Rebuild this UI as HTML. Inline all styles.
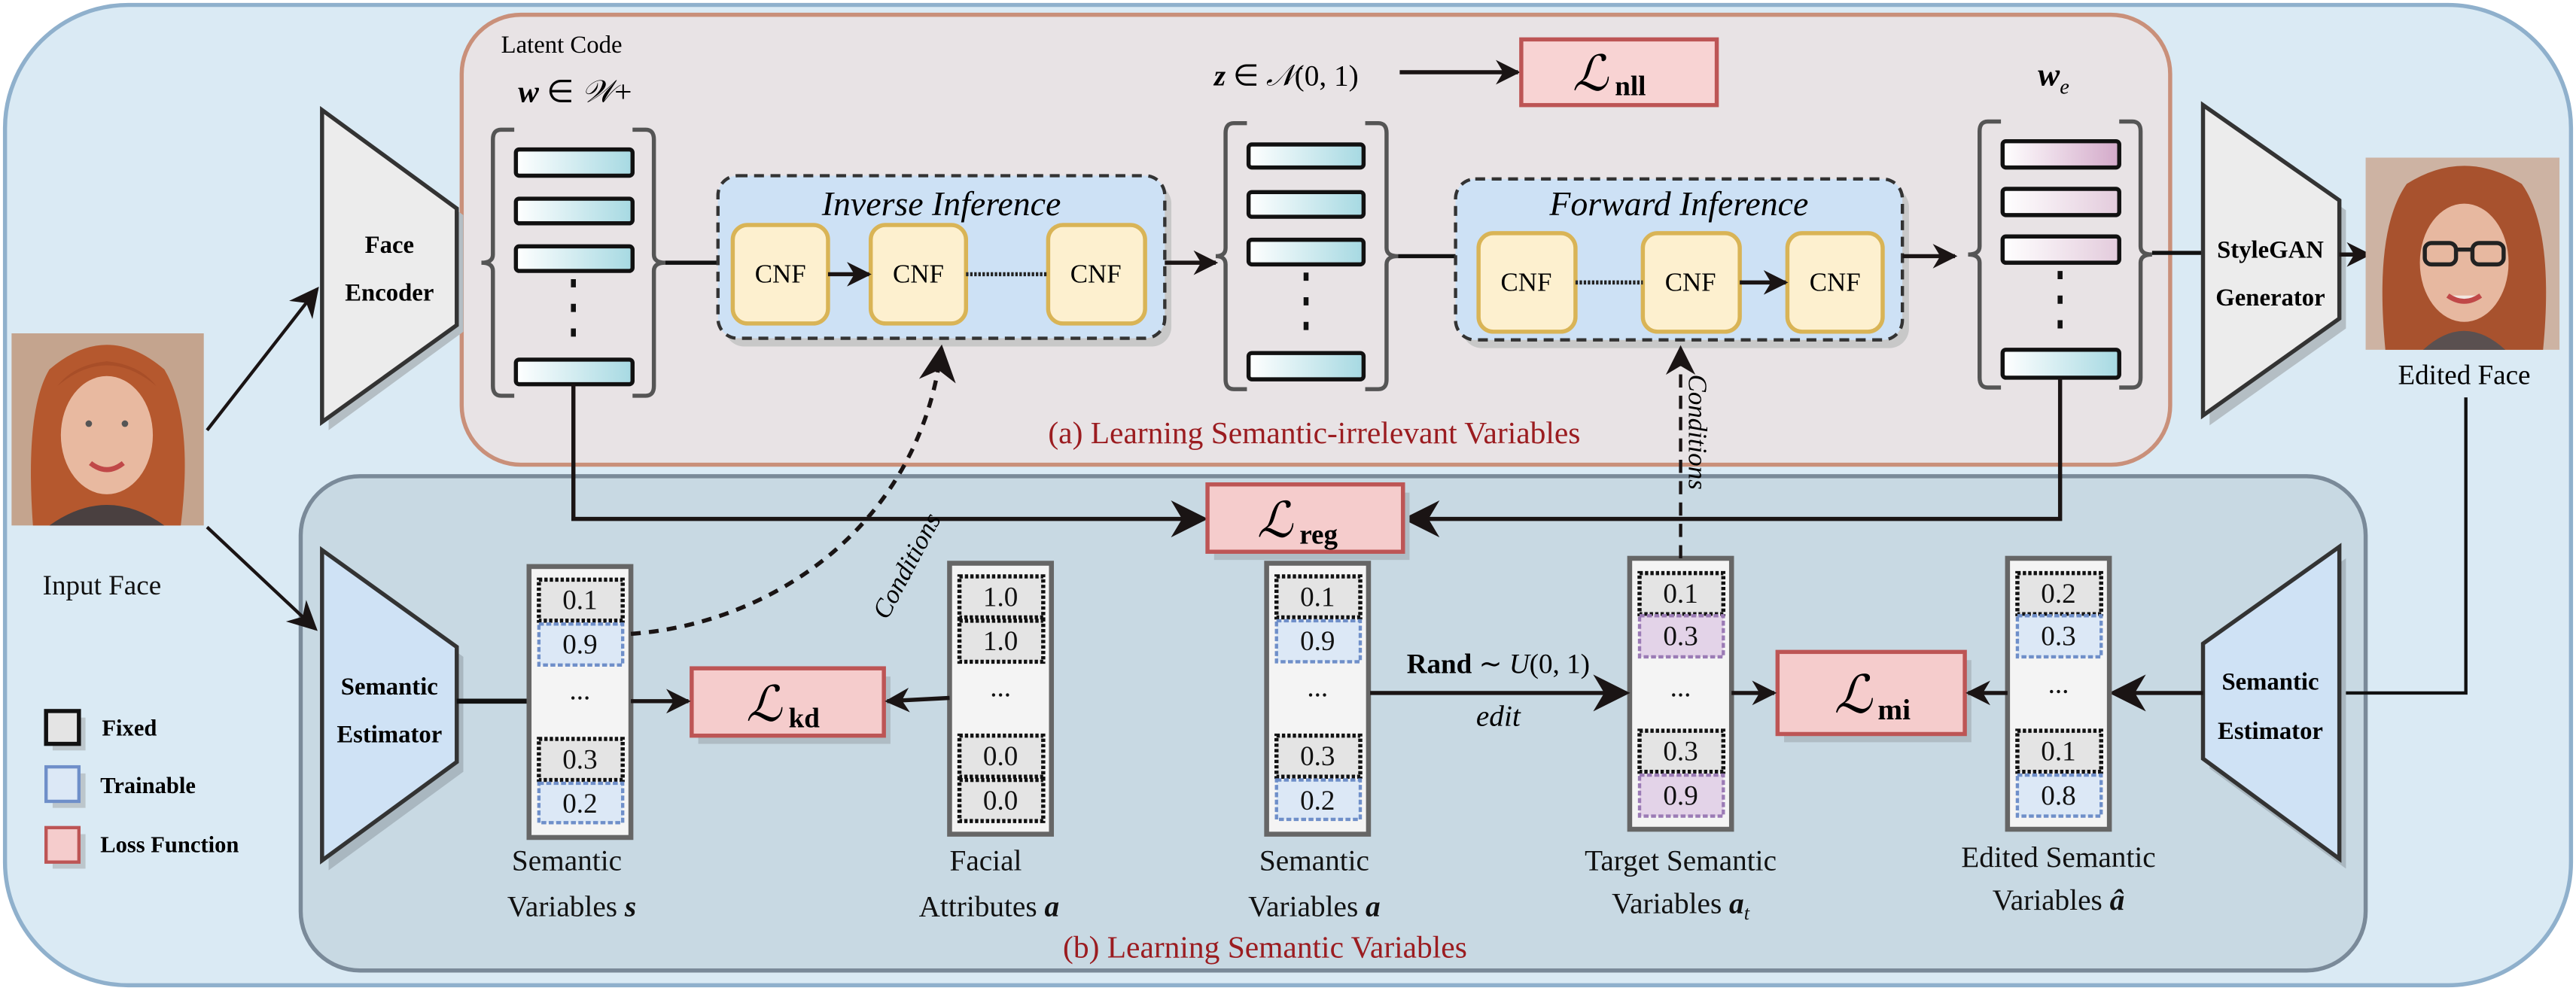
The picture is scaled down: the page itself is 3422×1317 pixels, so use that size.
<!DOCTYPE html>
<html><head><meta charset="utf-8"><style>html,body{margin:0;padding:0;background:#fff}svg{display:block}svg,svg text{font-family:"Liberation Serif","Times New Roman",serif}</style></head><body>
<svg width="3422" height="1317" viewBox="0 0 1568 603.5" xmlns="http://www.w3.org/2000/svg" font-family="Liberation Serif, Times New Roman, serif" style="font-family:'Liberation Serif','Times New Roman',serif">
<defs>
<linearGradient id="tl" x1="0" x2="1"><stop offset="0" stop-color="#ffffff"/><stop offset="1" stop-color="#a6d9e2"/></linearGradient>
<linearGradient id="pk" x1="0" x2="1"><stop offset="0" stop-color="#ffffff"/><stop offset="1" stop-color="#d3a9c9"/></linearGradient>
<linearGradient id="pk2" x1="0" x2="1"><stop offset="0" stop-color="#ffffff"/><stop offset="1" stop-color="#e3cbdc"/></linearGradient>
<marker id="ah" viewBox="0 0 10 10" refX="9" refY="5" markerWidth="6" markerHeight="6" orient="auto-start-reverse" markerUnits="strokeWidth"><path d="M0,0 L10,5 L0,10 L3,5 z" fill="#1a1414"/></marker>
<marker id="ah2" viewBox="0 0 10 10" refX="9" refY="5" markerWidth="9" markerHeight="9" orient="auto" markerUnits="strokeWidth"><path d="M0,0 L10,5 L0,10 L3,5 z" fill="#1a1414"/></marker>
</defs>
<rect x="3" y="3" width="1562" height="597" rx="75" fill="#daeaf4" stroke="#8fb0cc" stroke-width="2.5"/>
<rect x="281" y="9" width="1040" height="274" rx="36" fill="#e8e3e5" stroke="#c9907a" stroke-width="2.5"/>
<rect x="183" y="290" width="1257" height="301" rx="36" fill="#c8d9e3" stroke="#7a8a99" stroke-width="2.5"/>
<text x="800" y="270" font-size="19" fill="#9b1c20" text-anchor="middle">(a) Learning Semantic-irrelevant Variables</text>
<text x="770" y="583" font-size="19" fill="#9b1c20" text-anchor="middle">(b) Learning Semantic Variables</text>

<g>
<rect x="7" y="203" width="117" height="117" fill="#c4a48e"/>
<path d="M20,320 Q15,250 30,225 Q65,195 100,225 Q118,255 110,320 z" fill="#b5582e"/>
<ellipse cx="65" cy="265" rx="28" ry="36" fill="#e8b9a0"/>
<path d="M35,235 Q65,210 95,235 Q85,222 65,220 Q45,222 35,235z" fill="#a84e28"/>
<path d="M30,320 Q65,295 100,320z" fill="#4a4040"/>
<path d="M55,282 Q65,290 75,282" stroke="#c04848" stroke-width="3" fill="none"/>
<circle cx="54" cy="258" r="2" fill="#555"/><circle cx="76" cy="258" r="2" fill="#555"/>
</g>
<text x="62" y="362" font-size="17" text-anchor="middle" fill="#111">Input Face</text>
<line x1="126" y1="262" x2="193" y2="176" stroke="#1a1414" stroke-width="2" marker-end="url(#ah2)"/>
<line x1="126" y1="321" x2="192" y2="383" stroke="#1a1414" stroke-width="2" marker-end="url(#ah2)"/>

<polygon points="200,72 282,131 282,202 200,262" fill="#b4bec4"/>
<polygon points="196,67 278,127 278,198 196,257" fill="#ececec" stroke="#333" stroke-width="2.5"/>
<text x="237" y="154" font-size="15" font-weight="bold" text-anchor="middle">Face</text>
<text x="237" y="183" font-size="15" font-weight="bold" text-anchor="middle">Encoder</text>

<text x="305" y="32" font-size="15">Latent Code</text>
<text x="350" y="62" font-size="19" font-style="italic" font-weight="bold" text-anchor="middle">w <tspan font-weight="normal" font-style="normal">∈</tspan> <tspan font-weight="normal">𝒲</tspan><tspan font-weight="normal" font-style="normal">+</tspan></text>
<g stroke="#555" stroke-width="2.5" fill="none">
<path d="M313,79 H305 Q300,79 300,85 V155 Q300,160 293,160 Q300,160 300,165 V235 Q300,241 305,241 H313"/>
<path d="M385,79 H393 Q398,79 398,85 V155 Q398,160 405,160 Q398,160 398,165 V235 Q398,241 393,241 H385"/>
</g>
<g stroke="#111" stroke-width="2.5" fill="url(#tl)">
<rect x="314" y="91" width="71" height="16" rx="2"/>
<rect x="314" y="121" width="71" height="15" rx="2"/>
<rect x="314" y="150" width="71" height="15" rx="2"/>
<rect x="314" y="219" width="71" height="15" rx="2"/>
</g>
<line x1="349" y1="170" x2="349" y2="212" stroke="#111" stroke-width="3" stroke-dasharray="5 10"/>
<line x1="405" y1="160" x2="437" y2="160" stroke="#111" stroke-width="2.5"/>

<rect x="441" y="112" width="272" height="99" rx="12" fill="#c8c8c8"/>
<rect x="437" y="107" width="272" height="99" rx="12" fill="#cde1f5" stroke="#333" stroke-width="2" stroke-dasharray="6 4"/>
<text x="573" y="131" font-size="21" font-style="italic" text-anchor="middle">Inverse Inference</text>
<g fill="#fdf0cf" stroke="#d9b456" stroke-width="2.5">
<rect x="446" y="137" width="58" height="60" rx="9"/>
<rect x="530" y="137" width="58" height="60" rx="9"/>
<rect x="638" y="137" width="59" height="60" rx="9"/>
</g>
<g font-size="16" text-anchor="middle"><text x="475" y="172">CNF</text><text x="559" y="172">CNF</text><text x="667" y="172">CNF</text></g>
<line x1="504" y1="167" x2="529" y2="167" stroke="#1a1414" stroke-width="2.5" marker-end="url(#ah)"/>
<line x1="588" y1="167" x2="638" y2="167" stroke="#222" stroke-width="2.5" stroke-dasharray="1.5 1"/>
<line x1="709" y1="160" x2="740" y2="160" stroke="#1a1414" stroke-width="2.5" marker-end="url(#ah)"/>

<g stroke="#555" stroke-width="2.5" fill="none">
<path d="M759,75 H751 Q746,75 746,81 V151 Q746,156 740,156 Q746,156 746,161 V231 Q746,237 751,237 H759"/>
<path d="M831,75 H839 Q844,75 844,81 V151 Q844,156 851,156 Q844,156 844,161 V231 Q844,237 839,237 H831"/>
</g>
<g stroke="#111" stroke-width="2.5" fill="url(#tl)">
<rect x="760" y="88" width="70" height="14" rx="2"/>
<rect x="760" y="117" width="70" height="15" rx="2"/>
<rect x="760" y="146" width="70" height="15" rx="2"/>
<rect x="760" y="215" width="70" height="16" rx="2"/>
</g>
<line x1="795" y1="166" x2="795" y2="210" stroke="#111" stroke-width="3" stroke-dasharray="5 10"/>
<text x="783" y="52" font-size="18" text-anchor="middle"><tspan font-style="italic" font-weight="bold">z</tspan> ∈ <tspan font-style="italic">𝒩</tspan>(0, 1)</text>
<line x1="852" y1="44" x2="924" y2="44" stroke="#1a1414" stroke-width="2.5" marker-end="url(#ah)"/>
<rect x="926" y="24" width="119" height="40" fill="#f8d3d3" stroke="#bd5555" stroke-width="2.5"/>
<text x="968" y="55" font-size="30" font-style="italic" text-anchor="middle">ℒ</text><text x="983" y="58" font-size="17" font-weight="bold">nll</text>
<line x1="851" y1="156" x2="886" y2="156" stroke="#111" stroke-width="2.5"/>

<rect x="890" y="114" width="272" height="98" rx="12" fill="#c8c8c8"/>
<rect x="886" y="109" width="272" height="98" rx="12" fill="#cde1f5" stroke="#333" stroke-width="2" stroke-dasharray="6 4"/>
<text x="1022" y="131" font-size="21" font-style="italic" text-anchor="middle">Forward Inference</text>
<g fill="#fdf0cf" stroke="#d9b456" stroke-width="2.5">
<rect x="900" y="142" width="59" height="60" rx="9"/>
<rect x="1000" y="142" width="59" height="60" rx="9"/>
<rect x="1088" y="142" width="58" height="60" rx="9"/>
</g>
<g font-size="16" text-anchor="middle"><text x="929" y="177">CNF</text><text x="1029" y="177">CNF</text><text x="1117" y="177">CNF</text></g>
<line x1="959" y1="172" x2="1000" y2="172" stroke="#222" stroke-width="2.5" stroke-dasharray="1.5 1"/>
<line x1="1059" y1="172" x2="1087" y2="172" stroke="#1a1414" stroke-width="2.5" marker-end="url(#ah)"/>
<line x1="1158" y1="156" x2="1190" y2="156" stroke="#1a1414" stroke-width="2.5" marker-end="url(#ah)"/>

<text x="1250" y="52" font-size="20" font-style="italic" font-weight="bold" text-anchor="middle">w<tspan font-size="13" dy="5" font-weight="normal">e</tspan></text>
<g stroke="#555" stroke-width="2.5" fill="none">
<path d="M1218,74 H1210 Q1205,74 1205,80 V150 Q1205,155 1198,155 Q1205,155 1205,160 V230 Q1205,236 1210,236 H1218"/>
<path d="M1290,74 H1298 Q1303,74 1303,80 V150 Q1303,155 1310,155 Q1303,155 1303,160 V230 Q1303,236 1298,236 H1290"/>
</g>
<g stroke="#111" stroke-width="2.5">
<rect x="1219" y="86" width="71" height="16" rx="2" fill="url(#pk)"/>
<rect x="1219" y="115" width="71" height="16" rx="2" fill="url(#pk2)"/>
<rect x="1219" y="144" width="71" height="16" rx="2" fill="url(#pk2)"/>
<rect x="1219" y="213" width="71" height="17" rx="2" fill="url(#tl)"/>
</g>
<line x1="1254" y1="165" x2="1254" y2="208" stroke="#111" stroke-width="3" stroke-dasharray="5 10"/>
<line x1="1310" y1="154" x2="1341" y2="154" stroke="#111" stroke-width="2.5"/>

<polygon points="1345,70 1428,128 1428,200 1345,259" fill="#b4bec4"/>
<polygon points="1341,64 1424,122 1424,194 1341,253" fill="#ececec" stroke="#333" stroke-width="2.5"/>
<text x="1382" y="157" font-size="15" font-weight="bold" text-anchor="middle">StyleGAN</text>
<text x="1382" y="186" font-size="15" font-weight="bold" text-anchor="middle">Generator</text>
<line x1="1424" y1="155" x2="1442" y2="155" stroke="#1a1414" stroke-width="2.5" marker-end="url(#ah)"/>

<g>
<rect x="1440" y="96" width="118" height="117" fill="#cdb3a3"/>
<path d="M1452,213 Q1445,140 1465,112 Q1500,90 1535,112 Q1555,140 1548,213 z" fill="#a8522e"/>
<ellipse cx="1500" cy="160" rx="27" ry="36" fill="#e7b8a0"/>
<path d="M1475,213 Q1500,190 1525,213z" fill="#5a5050"/>
<g fill="none" stroke="#222" stroke-width="2.5"><rect x="1476" y="148" width="19" height="13" rx="4"/><rect x="1505" y="148" width="19" height="13" rx="4"/><line x1="1495" y1="152" x2="1505" y2="152"/></g>
<path d="M1490,180 Q1500,187 1510,180" stroke="#c04848" stroke-width="3" fill="#f2e6e0"/>
</g>
<text x="1500" y="234" font-size="17" text-anchor="middle">Edited Face</text>
<polyline points="1501,242 1501,422 1424,422" fill="none" stroke="#111" stroke-width="2"/>

<polyline points="349,234 349,316 733,316" fill="none" stroke="#1a1414" stroke-width="2.5" marker-end="url(#ah2)"/>
<polyline points="1254,230 1254,316 856,316" fill="none" stroke="#1a1414" stroke-width="2.5" marker-end="url(#ah2)"/>
<rect x="739" y="300" width="119" height="41" fill="#afbcc4"/>
<rect x="735" y="295" width="119" height="41" fill="#f5cccc" stroke="#bd5555" stroke-width="2.5"/>
<text x="776" y="327" font-size="30" font-style="italic" text-anchor="middle">ℒ</text><text x="791" y="331" font-size="17" font-weight="bold">reg</text>

<polygon points="200,341 282,400 282,470 200,530" fill="#a9b7c0"/>
<polygon points="196,335 278,394 278,464 196,524" fill="#cfe2f5" stroke="#333" stroke-width="2.5"/>
<text x="237" y="423" font-size="15" font-weight="bold" text-anchor="middle">Semantic</text>
<text x="237" y="452" font-size="15" font-weight="bold" text-anchor="middle">Estimator</text>
<line x1="278" y1="427" x2="322" y2="427" stroke="#111" stroke-width="3"/>

<polygon points="1428,340 1428,529 1345,468 1345,398" fill="#a9b7c0"/>
<polygon points="1424,333 1424,523 1341,462 1341,392" fill="#cfe2f5" stroke="#333" stroke-width="2.5"/>
<text x="1382" y="420" font-size="15" font-weight="bold" text-anchor="middle">Semantic</text>
<text x="1382" y="450" font-size="15" font-weight="bold" text-anchor="middle">Estimator</text>
<line x1="1341" y1="422" x2="1286" y2="422" stroke="#1a1414" stroke-width="2.5" marker-end="url(#ah2)"/>

<g stroke="#666" stroke-width="3" fill="#f4f4f4">
<rect x="322" y="345" width="62" height="165"/>
<rect x="578" y="343" width="62" height="165"/>
<rect x="771" y="343" width="62" height="165"/>
<rect x="992" y="340" width="62" height="165"/>
<rect x="1222" y="340" width="62" height="165"/>
</g>
<g fill="#e4e4e4" stroke="#111" stroke-width="2.5" stroke-dasharray="2 1.3">
<rect x="328" y="353" width="51" height="25"/><rect x="328" y="450" width="51" height="25"/>
<rect x="584" y="351" width="51" height="25"/><rect x="584" y="378" width="51" height="25"/>
<rect x="584" y="448" width="51" height="25"/><rect x="584" y="475" width="51" height="25"/>
<rect x="777" y="351" width="51" height="25"/><rect x="777" y="448" width="51" height="25"/>
<rect x="998" y="349" width="51" height="25"/><rect x="998" y="445" width="51" height="25"/>
<rect x="1228" y="349" width="51" height="25"/><rect x="1228" y="445" width="51" height="25"/>
</g>
<g fill="#dce8f6" stroke="#6f8fc9" stroke-width="2" stroke-dasharray="3 1.5">
<rect x="328" y="380" width="51" height="25"/><rect x="328" y="477" width="51" height="24"/>
<rect x="777" y="378" width="51" height="25"/><rect x="777" y="475" width="51" height="24"/>
<rect x="1228" y="375" width="51" height="25"/><rect x="1228" y="472" width="51" height="25"/>
</g>
<g fill="#e3d3e8" stroke="#9b7bb5" stroke-width="2" stroke-dasharray="3 1.5">
<rect x="998" y="375" width="51" height="25"/><rect x="998" y="472" width="51" height="25"/>
</g>
<g font-size="17" text-anchor="middle" fill="#111">
<text x="353" y="371">0.1</text><text x="353" y="398">0.9</text><text x="353" y="426">...</text><text x="353" y="468">0.3</text><text x="353" y="495">0.2</text>
<text x="609" y="369">1.0</text><text x="609" y="396">1.0</text><text x="609" y="424">...</text><text x="609" y="466">0.0</text><text x="609" y="493">0.0</text>
<text x="802" y="369">0.1</text><text x="802" y="396">0.9</text><text x="802" y="424">...</text><text x="802" y="466">0.3</text><text x="802" y="493">0.2</text>
<text x="1023" y="367">0.1</text><text x="1023" y="393">0.3</text><text x="1023" y="424">...</text><text x="1023" y="463">0.3</text><text x="1023" y="490">0.9</text>
<text x="1253" y="367">0.2</text><text x="1253" y="393">0.3</text><text x="1253" y="422">...</text><text x="1253" y="463">0.1</text><text x="1253" y="490">0.8</text>
</g>
<g font-size="18" text-anchor="middle" fill="#111">
<text x="345" y="530">Semantic</text><text x="348" y="558">Variables <tspan font-style="italic" font-weight="bold">s</tspan></text>
<text x="600" y="530">Facial</text><text x="602" y="558">Attributes <tspan font-style="italic" font-weight="bold">a</tspan></text>
<text x="800" y="530">Semantic</text><text x="800" y="558">Variables <tspan font-style="italic" font-weight="bold">a</tspan></text>
<text x="1023" y="530">Target Semantic</text><text x="1023" y="556">Variables <tspan font-style="italic" font-weight="bold">a</tspan><tspan font-size="12" dy="4" font-style="italic">t</tspan></text>
<text x="1253" y="528">Edited Semantic</text><text x="1253" y="554">Variables <tspan font-style="italic" font-weight="bold">â</tspan></text>
</g>

<rect x="425" y="412" width="117" height="41" fill="#afbcc4"/>
<rect x="421" y="407" width="117" height="41" fill="#f5cccc" stroke="#bd5555" stroke-width="2.5"/>
<text x="465" y="439" font-size="30" font-style="italic" text-anchor="middle">ℒ</text><text x="480" y="443" font-size="17" font-weight="bold">kd</text>
<line x1="384" y1="427" x2="419" y2="427" stroke="#1a1414" stroke-width="2.5" marker-end="url(#ah)"/>
<line x1="578" y1="425" x2="540" y2="427" stroke="#1a1414" stroke-width="2.5" marker-end="url(#ah)"/>

<rect x="1086" y="402" width="114" height="50" fill="#afbcc4"/>
<rect x="1082" y="397" width="114" height="50" fill="#f5cccc" stroke="#bd5555" stroke-width="2.5"/>
<text x="1128" y="434" font-size="32" font-style="italic" text-anchor="middle">ℒ</text><text x="1143" y="438" font-size="18" font-weight="bold">mi</text>
<line x1="1054" y1="422" x2="1080" y2="422" stroke="#1a1414" stroke-width="2.5" marker-end="url(#ah)"/>
<line x1="1222" y1="422" x2="1198" y2="422" stroke="#1a1414" stroke-width="2.5" marker-end="url(#ah)"/>

<line x1="834" y1="422" x2="990" y2="422" stroke="#1a1414" stroke-width="2.5" marker-end="url(#ah2)"/>
<text x="912" y="410" font-size="17" text-anchor="middle"><tspan font-weight="bold">Rand</tspan> ∼ <tspan font-style="italic">U</tspan>(0, 1)</text>
<text x="912" y="442" font-size="18" font-style="italic" text-anchor="middle">edit</text>

<path d="M384,386 C470,380 560,320 573,212" fill="none" stroke="#1a1414" stroke-width="2.5" stroke-dasharray="6 5" marker-end="url(#ah2)"/>
<text transform="translate(540,378) rotate(-62)" font-size="16" font-style="italic">Conditions</text>
<line x1="1023" y1="340" x2="1023" y2="212" stroke="#1a1414" stroke-width="2" stroke-dasharray="8 5" marker-end="url(#ah2)"/>
<text transform="translate(1028,228) rotate(90)" font-size="16" font-style="italic">Conditions</text>

<g>
<rect x="32" y="437" width="20" height="20" fill="#bcc6cc"/><rect x="28" y="433" width="20" height="20" fill="#e4e4e4" stroke="#111" stroke-width="2.5"/>
<rect x="32" y="471" width="20" height="21" fill="#bcc6cc"/><rect x="28" y="467" width="20" height="21" fill="#dce8f6" stroke="#6f8fc9" stroke-width="2"/>
<rect x="32" y="508" width="20" height="21" fill="#bcc6cc"/><rect x="28" y="504" width="20" height="21" fill="#f5cccc" stroke="#bd5555" stroke-width="2"/>
<g font-size="14" font-weight="bold"><text x="62" y="448">Fixed</text><text x="61" y="483">Trainable</text><text x="61" y="519">Loss Function</text></g>
</g>
</svg>
</body></html>
